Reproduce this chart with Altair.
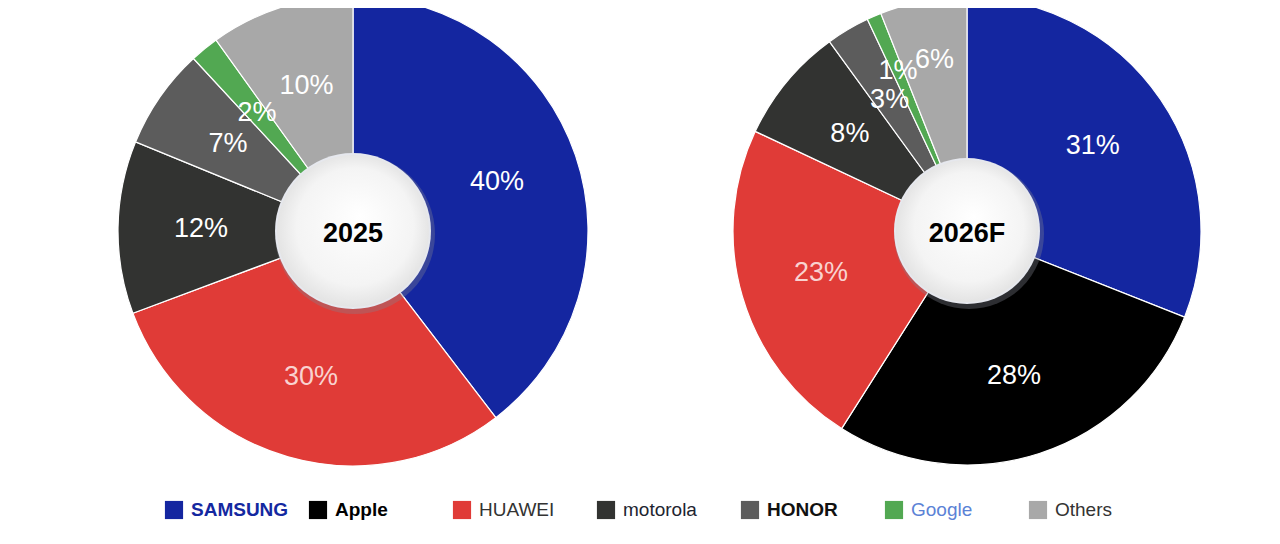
import altair as alt
import pandas as pd

# ---------------- data ----------------
brands = ["Samsung", "Apple", "Huawei", "Motorola", "Honor", "Google", "Others"]
legend_names = ["SAMSUNG", "Apple", "HUAWEI", "motorola", "HONOR", "Google", "Others"]
years = ["2025", "2026F"]
share_2025 = [40, 0, 30, 12, 7, 2, 10]
share_2026 = [31, 28, 23, 8, 3, 1, 6]

# ---------------- styles ----------------
slice_colors = ["#1426a0", "#000000", "#e03b37", "#323331", "#5c5c5c", "#52a852", "#a8a8a8"]
label_colors = ["#1428a0", "#000000", "#333333", "#1e2430", "#111111", "#5b82d6", "#333333"]
label_sizes = [19, 19, 18, 21, 19, 22, 21]
bold_brands = ["Samsung", "Apple", "Honor"]

rows = []
for year, shares in zip(years, [share_2025, share_2026]):
    for i, (b, s) in enumerate(zip(brands, shares)):
        if s > 0:
            rows.append({"year": year, "brand": b, "share": s, "idx": i, "label": f"{s}%"})
df = pd.DataFrame(rows)

cscale = alt.Scale(domain=brands, range=slice_colors)

gradient = {
    "gradient": "radial",
    "x1": 0.55, "y1": 0.4, "r1": 0.0,
    "x2": 0.5, "y2": 0.5, "r2": 0.55,
    "stops": [
        {"offset": 0.0, "color": "#ffffff"},
        {"offset": 0.7, "color": "#f4f4f4"},
        {"offset": 1.0, "color": "#dedede"},
    ],
}

# pie layout (centre of each pie inside the 1264 x 528 plot area)
layout = {"2025": (345, 223, 235, 77), "2026F": (959, 223, 234, 72)}


def pie(year):
    cx, cy, outer, hole = layout[year]
    X, Y = alt.value(cx), alt.value(cy)
    base = alt.Chart(df).transform_filter(alt.datum.year == year)
    theta = alt.Theta("share:Q", stack="normalize")
    order = alt.Order("idx:Q", sort="ascending")
    arcs = base.mark_arc(outerRadius=outer, stroke="white", strokeWidth=1.2).encode(
        x=X, y=Y, theta=theta, order=order,
        color=alt.Color("brand:N", scale=cscale, legend=None),
    )
    label_color = alt.condition(alt.datum.brand == "Huawei",
                                alt.value("#f9d2d0"), alt.value("white"))
    # in the forecast pie the labels of the two thin slices sit a little further out
    outer_pred = (alt.datum.idx >= 5) if year == "2026F" else (alt.datum.idx > 99)
    labels_in = base.mark_text(radius=152, fontSize=27, font="Liberation Sans",
                               baseline="middle", align="center").encode(
        x=X, y=Y, theta=theta, order=order,
        text=alt.condition(outer_pred, alt.value(""), alt.Text("label:N")),
        color=label_color,
    )
    labels_out = base.mark_text(radius=174, fontSize=27, font="Liberation Sans",
                                baseline="middle", align="center").encode(
        x=X, y=Y, theta=theta, order=order,
        text=alt.condition(outer_pred, alt.Text("label:N"), alt.value("")),
        color=label_color,
    )
    cbase = alt.Chart(pd.DataFrame({"year": [year]}))
    shadow = cbase.mark_arc(radius=hole + 3, theta=0, theta2=6.2832, opacity=0.35,
                            xOffset=2, yOffset=3).encode(x=X, y=Y, color=alt.value("#80858f"))
    rim = cbase.mark_arc(radius=hole + 1, theta=0, theta2=6.2832).encode(
        x=X, y=Y, color=alt.value("#e6e8ee"))
    disc = cbase.mark_arc(radius=hole - 1, theta=0, theta2=6.2832).encode(
        x=X, y=Y, color=alt.value(gradient))
    ytext = cbase.mark_text(font="Liberation Sans", fontSize=27, fontWeight="bold",
                            color="black", baseline="middle", dy=3).encode(
        x=X, y=Y, text="year:N")
    return [arcs, labels_in, labels_out, shadow, rim, disc, ytext]


# ---------------- legend ----------------
legend_df = pd.DataFrame({"brand": brands, "name": legend_names})
lx = alt.X("brand:N", scale=alt.Scale(type="point", domain=brands, range=[166, 1030], padding=0),
           axis=None)
LY = alt.value(502)
lbase = alt.Chart(legend_df)
squares = lbase.mark_square(size=330, opacity=1).encode(
    x=lx, y=LY, color=alt.Color("brand:N", scale=cscale, legend=None))


def legend_text(bold):
    pred = alt.FieldOneOfPredicate(field="brand", oneOf=bold_brands)
    t = lbase.transform_filter(pred if bold else {"not": pred})
    return t.mark_text(align="left", baseline="middle", dx=17, font="Liberation Sans",
                       fontWeight="bold" if bold else "normal").encode(
        x=lx, y=LY,
        text="name:N",
        fill=alt.Fill("brand:N", scale=alt.Scale(domain=brands, range=label_colors), legend=None),
        size=alt.Size("brand:N", scale=alt.Scale(domain=brands, range=label_sizes), legend=None),
    )


layers = pie("2025") + pie("2026F") + [squares, legend_text(True), legend_text(False)]

chart = alt.layer(*layers).properties(
    width=1264, height=528,
    autosize=alt.AutoSizeParams(type="none"),
    padding=0,
    background="white",
).configure_view(stroke=None)

chart.save("out.html", embed_options={"renderer": "svg", "actions": False})
